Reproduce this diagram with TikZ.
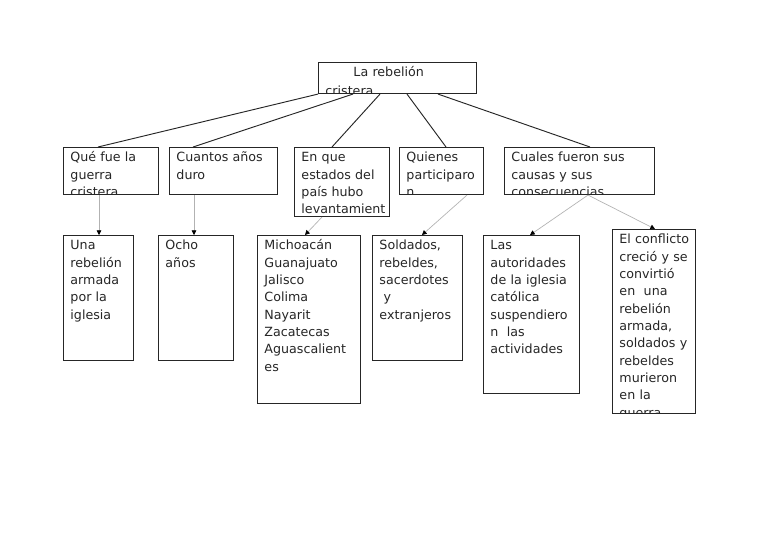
\documentclass[tikz,border=0pt]{standalone}
\usepackage{fontspec}
\setmainfont{DejaVu Sans}
\usetikzlibrary{arrows.meta, calc}

\newcommand{\textocaja}{\fontsize{9.5}{13}\selectfont}

\begin{document}
\begin{tikzpicture}[x=0.75pt, y=-0.75pt,
  caja/.style={draw=black!85, line width=0.8pt, anchor=north west, inner sep=0pt,
    path picture={\node[anchor=base west, inner sep=0pt, text width=200pt, align=left,
      font=\textocaja, text=black!85]
      at ([xshift=4.8pt, yshift=-10.6pt]path picture bounding box.north west) {#1};}},
  linea/.style={draw=black!85, line width=0.7pt},
  flecha/.style={draw=black!30, line width=0.5pt,
    -{Triangle[length=3.5pt, width=3.5pt, color=black]}}
]
  \fill[white] (0,0) rectangle (768,543);
  \useasboundingbox (0,0) rectangle (768,543);

  % tema central
  \node[caja={\hspace*{21pt}La rebelión\\[0.8pt]cristera}, minimum width=118.5pt, minimum height=23.25pt] (tema) at (318,62) {};

  % preguntas
  \node[caja={Qué fue la\\guerra\\cristera}, minimum width=71.25pt, minimum height=35.25pt] (p1) at (63,147) {};
  \node[caja={Cuantos años\\duro}, minimum width=81pt, minimum height=35.25pt] (p2) at (169,147) {};
  \node[caja={En que\\estados del\\país hubo\\levantamient}, minimum width=71.25pt, minimum height=51.75pt] (p3) at (294,147) {};
  \node[caja={Quienes\\participaro\\n}, minimum width=63pt, minimum height=35.25pt] (p4) at (399,147) {};
  \node[caja={Cuales fueron sus\\causas y sus\\consecuencias}, minimum width=112.5pt, minimum height=35.25pt] (p5) at (504,147) {};

  % respuestas
  \node[caja={Una\\rebelión\\armada\\por la\\iglesia}, minimum width=52.5pt, minimum height=93.75pt] (r1) at (63,235) {};
  \node[caja={Ocho\\años}, minimum width=56.25pt, minimum height=93.75pt] (r2) at (158,235) {};
  \node[caja={Michoacán\\Guanajuato\\Jalisco\\Colima\\Nayarit\\Zacatecas\\Aguascalient\\es}, minimum width=77.25pt, minimum height=126pt] (r3) at (257,235) {};
  \node[caja={Soldados,\\rebeldes,\\sacerdotes\\~y\\extranjeros}, minimum width=67.5pt, minimum height=93.75pt] (r4) at (372,235) {};
  \node[caja={Las\\autoridades\\de la iglesia\\católica\\suspendiero\\n~ las\\actividades}, minimum width=72pt, minimum height=118.5pt] (r5) at (483,235) {};
  \node[caja={El conflicto\\creció y se\\convirtió\\en~ una\\rebelión\\armada,\\soldados y\\rebeldes\\murieron\\en la\\guerra}, minimum width=62.25pt, minimum height=138pt] (r6) at (612,229) {};

  % del tema a las preguntas
  \draw[linea] (tema.south west) -- ($(p1.north west)+(35,0)$);
  \draw[linea] ($(tema.south west)+(35,0)$) -- ($(p2.north west)+(24,0)$);
  \draw[linea] ($(tema.south west)+(62,0)$) -- ($(p3.north west)+(38,0)$);
  \draw[linea] ($(tema.south west)+(89,0)$) -- ($(p4.north west)+(47,0)$);
  \draw[linea] ($(tema.south west)+(120,0)$) -- ($(p5.north west)+(86,0)$);

  % de las preguntas a las respuestas
  \draw[flecha] ($(p1.south west)+(36,0)$) -- ($(r1.north west)+(36,0)$);
  \draw[flecha] ($(p2.south west)+(25,0)$) -- ($(r2.north west)+(36,0)$);
  \draw[flecha] ($(p3.south west)+(28,0)$) -- ($(r3.north west)+(48,0)$);
  \draw[flecha] ($(p4.south west)+(68,0)$) -- ($(r4.north west)+(50,0)$);
  \draw[flecha] ($(p5.south west)+(84,0)$) -- ($(r5.north west)+(47,0)$);
  \draw[flecha] ($(p5.south west)+(84,0)$) -- ($(r6.north west)+(43,0)$);
\end{tikzpicture}
\end{document}
